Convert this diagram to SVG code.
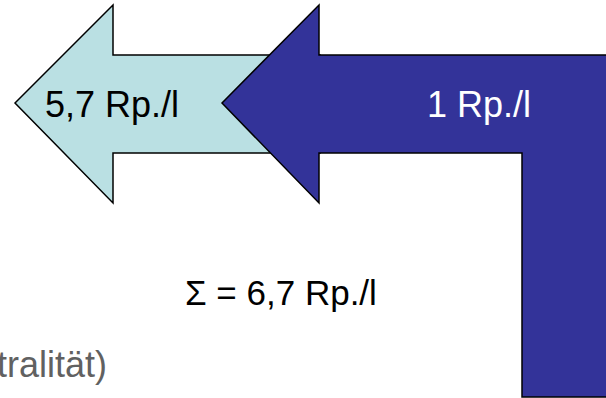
<svg xmlns="http://www.w3.org/2000/svg" width="606" height="398" viewBox="0 0 606 398">
<style>
.arrow{stroke:#000;stroke-width:1.5;stroke-linejoin:miter}
.t{font-family:"Liberation Sans",Arial,sans-serif;font-size:36px}
</style>
<rect width="606" height="398" fill="#fff"/>
<g id="arrow-cyan">
<polygon class="arrow" fill="#BAE0E3" points="15,103 113,5 113,55 320,55 320,153 113,153 113,203"/>
<text class="t" x="45" y="117" fill="#000">5,7 Rp./l</text>
</g>
<g id="arrow-blue">
<polygon class="arrow" fill="#333399" points="222,103 319,5 319,55 620,55 620,397 522,397 522,153 319,153 319,203"/>
<text class="t" x="427" y="117" fill="#fff">1 Rp./l</text>
</g>
<g id="sum">
<text class="t" x="185" y="305" fill="#000" style="font-size:35px">Σ = 6,7 Rp./l</text>
</g>
<g id="note">
<text class="t" x="107" y="377" fill="#616161" text-anchor="end">tralität)</text>
</g>
</svg>
